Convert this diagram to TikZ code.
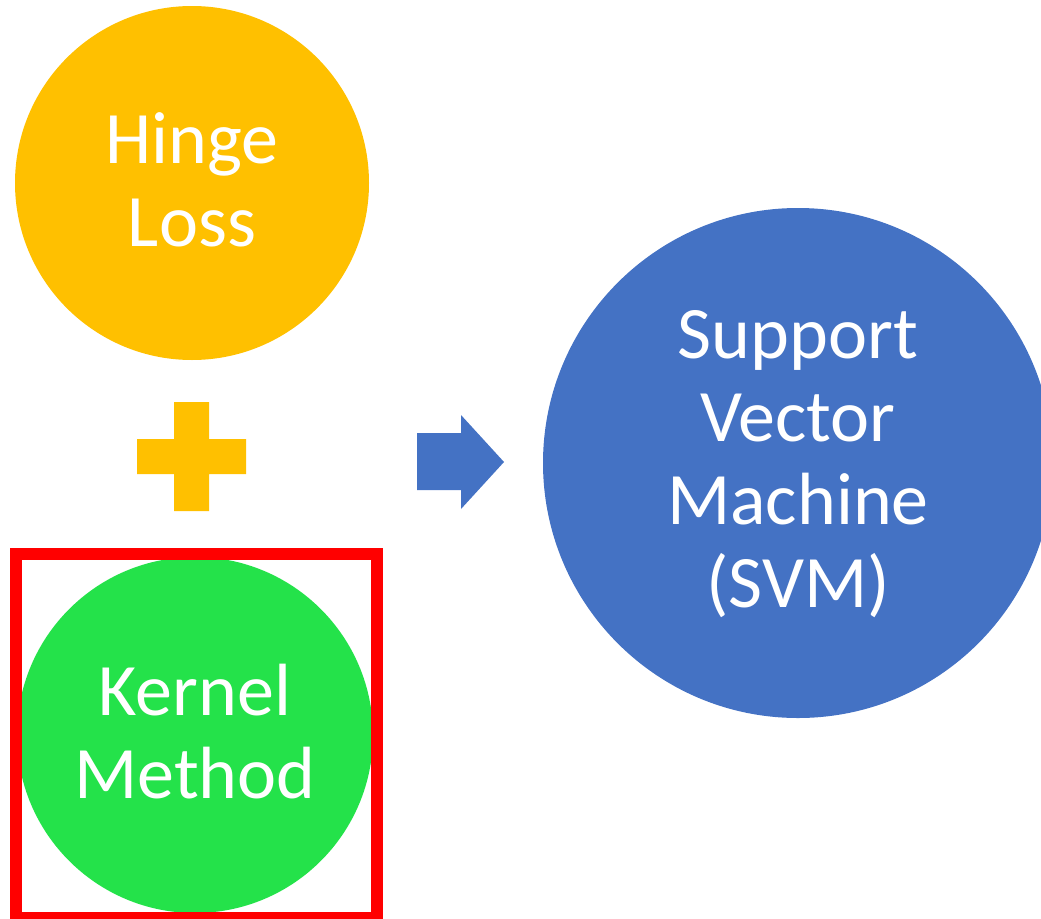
\documentclass[tikz,border=0pt]{standalone}
\usepackage{fontspec}
\setmainfont{Carlito}
\definecolor{cyellow}{HTML}{FFC000}
\definecolor{cblue}{HTML}{4472C4}
\definecolor{cgreen}{RGB}{36,226,74}
\definecolor{cred}{HTML}{FF0000}
\begin{document}
\begin{tikzpicture}[x=1pt,y=-1pt,
  bubble/.style={circle,inner sep=0pt,draw=none},
  bubbletext/.style={inner sep=0pt,text=white,align=center,
    font=\fontsize{74}{83}\selectfont}]
\useasboundingbox (0,0) rectangle (1041,918);
\clip (0,0) rectangle (1041,918);
\node[bubble,fill=cyellow,minimum size=354pt] (hinge) at (192,183) {};
\node[bubble,fill=cgreen,minimum size=356pt] (kernel) at (195,735) {};
\node[bubble,fill=cblue,minimum size=510pt] (svm) at (798,463) {};
\node[bubbletext] (hingetext) at ([yshift=3pt]hinge.center) {Hinge\\Loss};
\node[bubbletext] (kerneltext) at ([yshift=3pt]kernel.center) {Kernel\\Method};
\node[bubbletext] (svmtext) at ([yshift=-1pt]svm.center) {Support\\Vector\\Machine\\(SVM)};
% plus sign
\fill[cyellow] (174,402) -- (209,402) -- (209,439) -- (246,439) -- (246,474) -- (209,474)
  -- (209,511) -- (174,511) -- (174,474) -- (137,474) -- (137,439) -- (174,439) -- cycle;
% block arrow
\fill[cblue] (417,433) -- (461,433) -- (461,415) -- (504,462) -- (461,509) -- (461,490)
  -- (417,490) -- cycle;
% highlight box
\draw[cred,line width=12pt] (15.5,554) rectangle (377,918);
\end{tikzpicture}
\end{document}
